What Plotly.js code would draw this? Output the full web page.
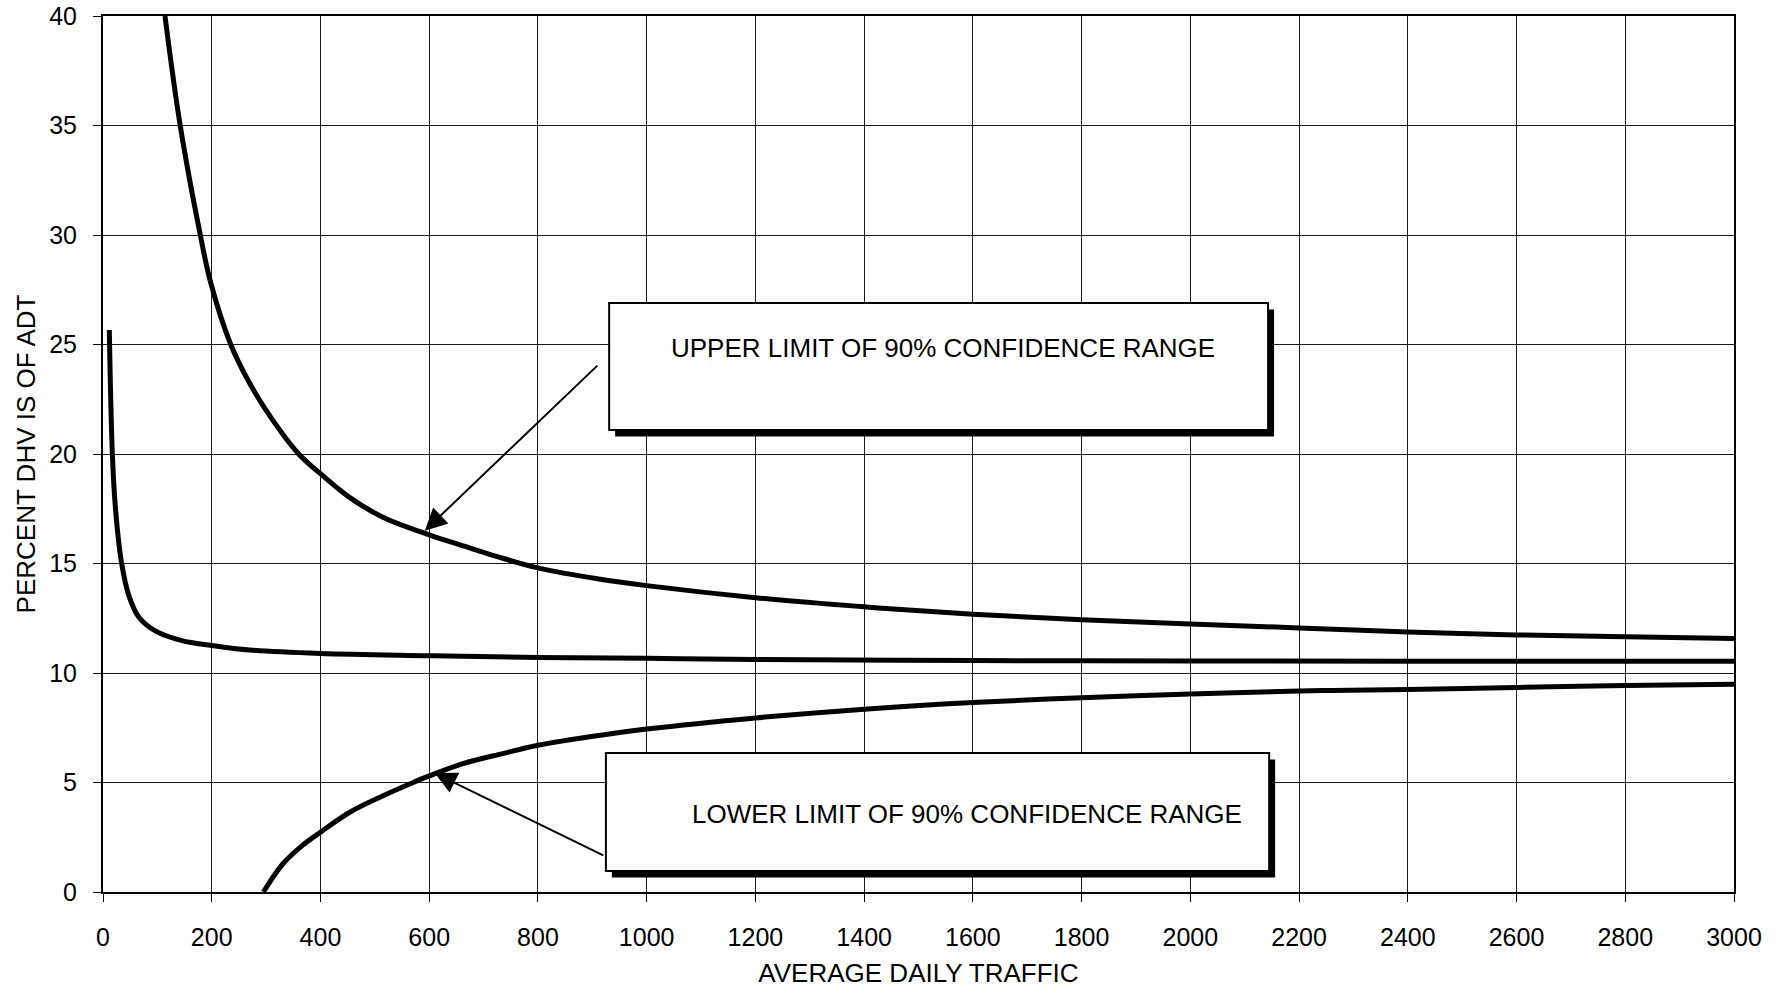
<!DOCTYPE html>
<html>
<head>
<meta charset="utf-8">
<script src="https://cdn.plot.ly/plotly-3.0.1.min.js"></script>
<style>html,body{margin:0;padding:0;background:#fff;}#chart{width:1784px;height:988px;}</style>
</head>
<body>
<div id="chart"></div>
<script>
// Values
const upperX = [114, 142, 179, 198, 235, 268, 305, 360, 400, 452, 513, 600, 666, 727, 800, 912, 1000, 1200, 1400, 1600, 1800, 2000, 2200, 2400, 2600, 2800, 3000];
const upperY = [40, 35, 30, 27.83, 25.0, 23.31, 21.81, 20.0, 19.1, 18.04, 17.14, 16.31, 15.78, 15.3, 14.8, 14.29, 13.99, 13.44, 13.02, 12.68, 12.43, 12.24, 12.06, 11.87, 11.74, 11.65, 11.57];

const meanX = [11.6, 17.2, 23.3, 34.3, 48, 66, 97, 145, 200, 270, 400, 600, 800, 1000, 1200, 1600, 2000, 2400, 3000];
const meanY = [25.66, 20.0, 17.4, 15.0, 13.5, 12.55, 11.91, 11.48, 11.26, 11.05, 10.89, 10.79, 10.71, 10.67, 10.62, 10.57, 10.55, 10.54, 10.54];

const lowerX = [295, 331, 368, 400, 454, 515, 564, 600, 662, 735, 800, 912, 1000, 1200, 1400, 1600, 1800, 2000, 2200, 2400, 2600, 2800, 3000];
const lowerY = [0, 1.29, 2.15, 2.73, 3.64, 4.39, 4.93, 5.3, 5.86, 6.32, 6.7, 7.15, 7.44, 7.95, 8.35, 8.65, 8.87, 9.04, 9.18, 9.25, 9.34, 9.43, 9.49];

const xTicks = [0, 200, 400, 600, 800, 1000, 1200, 1400, 1600, 1800, 2000, 2200, 2400, 2600, 2800, 3000];
const yTicks = [0, 5, 10, 15, 20, 25, 30, 35, 40];

const upperLabel = "UPPER LIMIT OF 90% CONFIDENCE RANGE";
const lowerLabel = "LOWER LIMIT OF 90% CONFIDENCE RANGE";
const xTitle = "AVERAGE DAILY TRAFFIC";
const yTitle = "PERCENT DHV IS OF ADT";

const FONT = "Liberation Sans, Arial, Helvetica, sans-serif";
const lineStyle = {color: "#000", width: 5, shape: "spline", smoothing: 1.0, simplify: false};

const traces = [
  {x: upperX, y: upperY, mode: "lines", line: lineStyle, hoverinfo: "skip"},
  {x: meanX, y: meanY, mode: "lines", line: lineStyle, hoverinfo: "skip"},
  {x: lowerX, y: lowerY, mode: "lines", line: lineStyle, hoverinfo: "skip"}
];

const axisCommon = {
  showgrid: true, gridcolor: "#1a1a1a", gridwidth: 1,
  showline: true, linecolor: "#000", linewidth: 2, mirror: true,
  ticks: "outside", ticklen: 8, tickcolor: "#000", tickwidth: 1,
  zeroline: false,
  tickfont: {family: FONT, size: 25, color: "#000"}
};

const layout = {
  width: 1784, height: 988,
  margin: {l: 103, r: 50, t: 16, b: 96},
  paper_bgcolor: "#fff", plot_bgcolor: "#fff",
  showlegend: false,
  font: {family: FONT, color: "#000"},
  xaxis: Object.assign({}, axisCommon, {
    range: [0, 3000], tickvals: xTicks, ticktext: xTicks.map(String),
    ticklabelstandoff: 14,
    title: {text: xTitle, font: {family: FONT, size: 26, color: "#000"}, standoff: 15}
  }),
  yaxis: Object.assign({}, axisCommon, {
    range: [0, 40], tickvals: yTicks, ticktext: yTicks.map(String),
    ticklabelstandoff: 11,
    title: {text: yTitle, font: {family: FONT, size: 26, color: "#000"}, standoff: 6}
  }),
  shapes: [
    {type: "rect", xref: "x", yref: "y", x0: 942, x1: 2154, y0: 20.8, y1: 26.6, fillcolor: "#000", line: {width: 0}},
    {type: "rect", xref: "x", yref: "y", x0: 931, x1: 2143, y0: 21.1, y1: 26.9, fillcolor: "#fff", line: {color: "#000", width: 2}},
    {type: "rect", xref: "x", yref: "y", x0: 936, x1: 2156, y0: 0.66, y1: 6.05, fillcolor: "#000", line: {width: 0}},
    {type: "rect", xref: "x", yref: "y", x0: 925, x1: 2145, y0: 0.96, y1: 6.35, fillcolor: "#fff", line: {color: "#000", width: 2}}
  ],
  annotations: [
    {xref: "x", yref: "y", x: 1545, y: 24.84, text: upperLabel, showarrow: false,
     font: {family: FONT, size: 26, color: "#000"}},
    {xref: "x", yref: "y", x: 1589, y: 3.56, text: lowerLabel, showarrow: false,
     font: {family: FONT, size: 26, color: "#000"}},
    {xref: "x", yref: "y", x: 592, y: 16.5, axref: "x", ayref: "y", ax: 912, ay: 24.1,
     text: "", showarrow: true, arrowhead: 2, arrowsize: 2.2, arrowwidth: 2, arrowcolor: "#000", standoff: 0},
    {xref: "x", yref: "y", x: 610, y: 5.43, axref: "x", ayref: "y", ax: 923, ay: 1.64,
     text: "", showarrow: true, arrowhead: 2, arrowsize: 2.2, arrowwidth: 2, arrowcolor: "#000", standoff: 0}
  ]
};

Plotly.newPlot("chart", traces, layout, {staticPlot: true, displayModeBar: false});
</script>
</body>
</html>
